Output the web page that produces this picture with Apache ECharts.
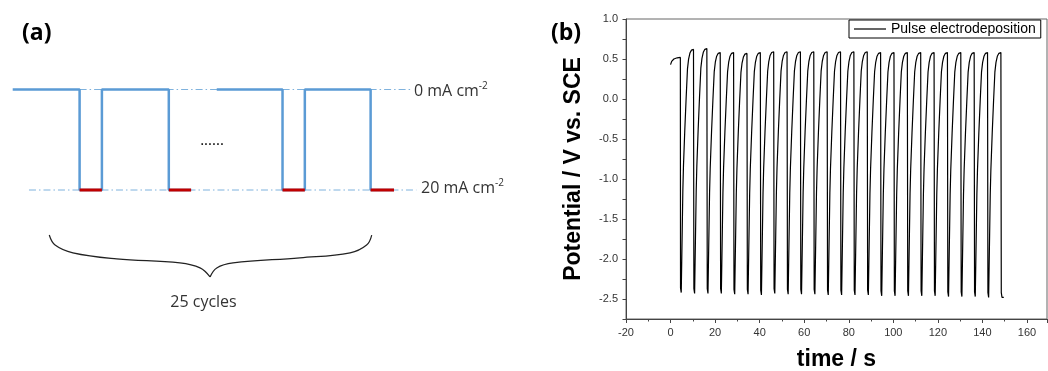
<!DOCTYPE html>
<html><head><meta charset="utf-8">
<script src="https://cdn.jsdelivr.net/npm/echarts@6/dist/echarts.min.js"></script>
<style>html,body{margin:0;padding:0;background:#fff}#c{width:1048px;height:371px}</style>
</head><body><div id="c"></div>
<script>
// ---------- Panel (b): measured potential ----------
const seriesName = 'Pulse electrodeposition';
const xTicks = [-20, 0, 20, 40, 60, 80, 100, 120, 140, 160];
const startTimes  = [0, 0.5, 1.5, 3.0];
const startValues = [0.43, 0.47, 0.50, 0.515];
const dropTimes = [4.4,10.4,16.4,22.4,28.4,34.4,40.4,46.4,52.4,58.4,64.4,70.4,76.4,82.4,88.4,94.4,100.4,106.4,112.4,118.4,124.4,130.4,136.4,142.4,148.4];
const peakValues = [0.52,0.62,0.63,0.58,0.58,0.57,0.58,0.59,0.59,0.59,0.59,0.59,0.59,0.59,0.59,0.58,0.58,0.58,0.58,0.58,0.58,0.58,0.58,0.58,0.58];
const bottomValues = [-2.42,-2.43,-2.43,-2.43,-2.44,-2.44,-2.45,-2.43,-2.44,-2.44,-2.44,-2.45,-2.45,-2.45,-2.45,-2.46,-2.46,-2.46,-2.46,-2.46,-2.47,-2.47,-2.47,-2.48,-2.48];
const onDuration = 1.0;
// recovery after each pulse (seconds after pulse end, share of the way back to peak), read from one tooth
const recoveryDt   = [0, 0.12, 0.4, 1.0, 1.6, 2.2, 2.7, 3.3, 4.0, 4.9];
const recoveryFrac = [0, 0.42, 0.52, 0.67, 0.80, 0.92, 0.96, 0.985, 0.997, 1];
const endTime = 149.6;

// ---------- Panel (a): schematic (arbitrary time units, mA cm^-2) ----------
const waveGroup1 = [[0,0],[3,0],[3,20],[4,20],[4,0],[7,0],[7,20],[8,20]];
const waveGroup2 = [[9.15,0],[12.1,0],[12.1,20],[13.1,20],[13.1,0],[16.05,0],[16.05,20],[17.1,20]];
const pulseOnSegments = [[3,4],[7,8],[12.1,13.1],[16.05,17.1]];
const refLine0  = [[3.0,0],[17.95,0]];
const refLine20 = [[0.73,20],[18.1,20]];
const braceLeft  = [[1.64,28.96],[1.90,30.95],[2.70,32.5],[4.66,33.7],[7.50,34.5],[8.40,35.5],[8.85,37.3]];
const braceRight = [[8.85,37.3],[9.15,35.5],[9.88,34.5],[12.88,33.5],[15.13,32.5],[15.87,30.95],[16.10,28.96]];

// build potential trace
const trace = [];
for (let i = 0; i < startTimes.length; i++) trace.push([startTimes[i], startValues[i]]);
for (let k = 0; k < dropTimes.length; k++) {
  const td = dropTimes[k], pk = peakValues[k], bt = bottomValues[k];
  trace.push([td, pk]);
  trace.push([td + 0.08, bt + 0.06]);
  trace.push([td + 0.4, bt]);
  if (k + 1 < dropTimes.length) {
    const t0 = td + onDuration, next = peakValues[k + 1];
    for (let i = 0; i < recoveryDt.length; i++) trace.push([t0 + recoveryDt[i], bt + recoveryFrac[i] * (next - bt)]);
  } else {
    trace.push([endTime, bt]);
  }
}

const chart = echarts.init(document.getElementById('c'), null, {renderer: 'canvas'});
const blue = '#5b9bd5', refBlue = '#7fb2dd', red = '#c00000';
const hiddenX = {show: false, min: 0, max: 23};
const hiddenY = {show: false, min: -10, max: 40, inverse: true};
const aSeries = (data, color, width, type, extra) => Object.assign({
  type: 'line', xAxisIndex: 1, yAxisIndex: 1, data, symbol: 'none', silent: true,
  lineStyle: {color, width, type: type || 'solid'}, animation: false, clip: false, z: 2
}, extra || {});

chart.setOption({
  animation: false,
  grid: [
    {left: 626, right: 1, top: 19, bottom: 52, show: true, borderColor: '#666', borderWidth: 1, backgroundColor: 'transparent', containLabel: false, outerBoundsMode: 'none'},
    {left: 12.7, width: 512.9, top: 39.25, height: 251.25, containLabel: false, outerBoundsMode: 'none'}
  ],
  legend: {
    data: [seriesName], left: 849, top: 20, orient: 'horizontal',
    borderColor: '#000', borderWidth: 1, borderRadius: 0, padding: [2, 5, 2, 5],
    icon: 'path://M0,0H32V1.2H0Z', itemWidth: 32, itemHeight: 1.2, itemStyle: {color: '#000'},
    backgroundColor: '#fff',
    textStyle: {fontFamily: 'Liberation Sans, Arial, sans-serif', fontSize: 14, color: '#000'}
  },
  xAxis: [
    {type: 'value', gridIndex: 0, min: -20, max: 169, interval: 20,
     name: 'time / s', nameLocation: 'middle', nameGap: 29,
     nameTextStyle: {fontFamily: 'Liberation Sans, Arial, sans-serif', fontWeight: 'bold', fontSize: 23, color: '#000'},
     axisLine: {show: true, onZero: false, lineStyle: {color: '#444', width: 1}},
     axisTick: {show: true, inside: false, length: 4, lineStyle: {color: '#444'}},
     minorTick: {show: true, splitNumber: 2, length: 2.5, lineStyle: {color: '#444'}},
     splitLine: {show: false}, minorSplitLine: {show: false},
     axisLabel: {showMaxLabel: false, margin: 8, fontFamily: 'Liberation Sans, Arial, sans-serif', fontSize: 11, color: '#333',
       formatter: v => xTicks.indexOf(v) >= 0 ? String(v) : ''}},
    Object.assign({gridIndex: 1, type: 'value'}, hiddenX)
  ],
  yAxis: [
    {type: 'value', gridIndex: 0, min: -2.75, max: 1.0, interval: 0.25,
     name: 'Potential / V vs. SCE', nameLocation: 'middle', nameGap: 41, nameRotate: 90,
     nameTextStyle: {fontFamily: 'Liberation Sans, Arial, sans-serif', fontWeight: 'bold', fontSize: 23, color: '#000'},
     axisLine: {show: true, onZero: false, lineStyle: {color: '#444', width: 1}},
     axisTick: {show: true, inside: false, length: 3.5, lineStyle: {color: '#444'}},
     splitLine: {show: false},
     axisLabel: {margin: 8, fontFamily: 'Liberation Sans, Arial, sans-serif', fontSize: 11, color: '#333',
       formatter: v => Math.abs(v * 2 - Math.round(v * 2)) < 1e-6 ? v.toFixed(1) : ''}},
    Object.assign({gridIndex: 1, type: 'value'}, hiddenY)
  ],
  series: [
    {name: seriesName, type: 'line', xAxisIndex: 0, yAxisIndex: 0, data: trace, symbol: 'none',
     lineStyle: {color: '#000', width: 1.2}, itemStyle: {color: '#000'}, animation: false, z: 3},
    aSeries(refLine0, refBlue, 1, [7, 3, 1.5, 3]),
    aSeries(refLine20, refBlue, 1, [7, 3, 1.5, 3]),
    aSeries(waveGroup1, blue, 2.5, 'solid', {z: 3}),
    aSeries(waveGroup2, blue, 2.5, 'solid', {z: 3}),
    ...pulseOnSegments.map(s => aSeries([[s[0], 20], [s[1], 20]], red, 3, 'solid', {z: 4})),
    aSeries(braceLeft, '#222', 1.2, 'solid', {smooth: 0.4}),
    aSeries(braceRight, '#222', 1.2, 'solid', {smooth: 0.4})
  ],
  graphic: [
    {type: 'text', x: 22, y: 33, style: {text: '(a)', font: 'bold 23px "Open Sans"', fill: '#000', textAlign: 'left', textVerticalAlign: 'middle', align: 'left', verticalAlign: 'middle'}},
    {type: 'text', x: 551, y: 33, style: {text: '(b)', font: 'bold 23px "Open Sans"', fill: '#000', textAlign: 'left', textVerticalAlign: 'middle', align: 'left', verticalAlign: 'middle'}},
    {type: 'text', x: 212, y: 141, style: {text: '......', font: '15px "Open Sans"', fill: '#000', textAlign: 'center', textVerticalAlign: 'middle', align: 'center', verticalAlign: 'middle'}},
    {type: 'text', x: 203.5, y: 302, style: {text: '25 cycles', font: '16px "Open Sans"', fill: '#333', textAlign: 'center', textVerticalAlign: 'middle', align: 'center', verticalAlign: 'middle'}},
    {type: 'text', x: 414, y: 91, style: {text: '{a|0 mA cm}{s|-2}', textAlign: 'left', textVerticalAlign: 'middle', align: 'left', verticalAlign: 'middle',
      rich: {a: {font: '16px "Open Sans"', fill: '#333', color: '#333', lineHeight: 20}, s: {font: '10px "Open Sans"', color: '#333', fill: '#333', lineHeight: 20, verticalAlign: 'top', padding: [0, 0, 8, 0]}}}},
    {type: 'text', x: 421, y: 188.5, style: {text: '{a|20 mA cm}{s|-2}', textAlign: 'left', textVerticalAlign: 'middle', align: 'left', verticalAlign: 'middle',
      rich: {a: {font: '16px "Open Sans"', fill: '#333', color: '#333', lineHeight: 20}, s: {font: '10px "Open Sans"', color: '#333', fill: '#333', lineHeight: 20, verticalAlign: 'top', padding: [0, 0, 8, 0]}}}}
  ]
});
</script></body></html>
